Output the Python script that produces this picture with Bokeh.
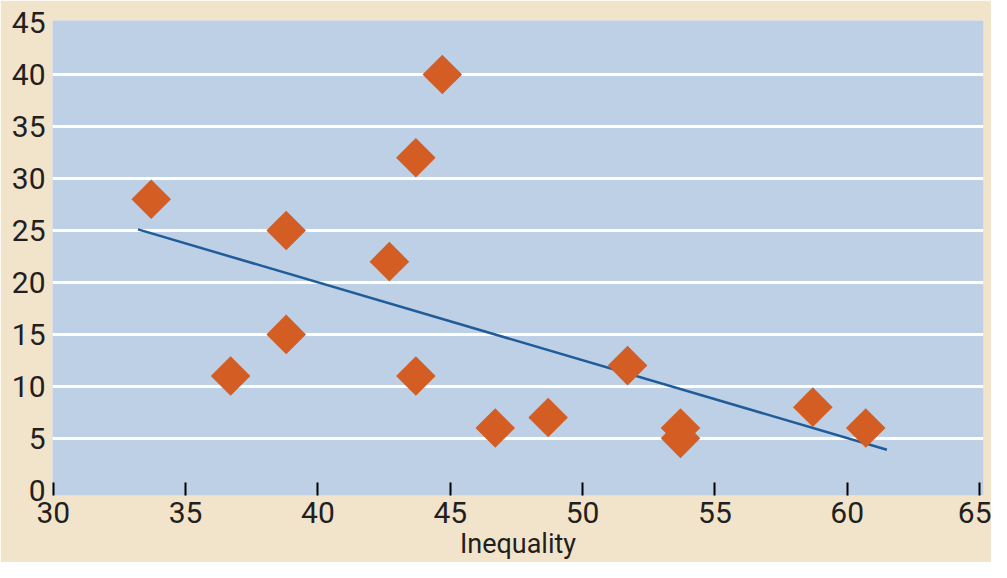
from bokeh.plotting import figure
from bokeh.models import FixedTicker, Range1d, ColumnDataSource
from bokeh.embed import file_html
from bokeh.resources import INLINE
import math

# Data
inequality = [33.7, 36.7, 38.8, 38.8, 42.7, 43.7, 43.7, 44.7, 46.7, 48.7, 51.7, 53.7, 53.7, 58.7, 60.7]
values = [28, 11, 25, 15, 22, 32, 11, 40, 6, 7, 12, 6, 5, 8, 6]
trend_x = [33.2, 61.5]
trend_y = [25.1, 3.9]
x_ticks = [30, 35, 40, 45, 50, 55, 60, 65]
y_ticks = [0, 5, 10, 15, 20, 25, 30, 35, 40, 45]
grid_ticks = [5, 10, 15, 20, 25, 30, 35, 40]

FONT = "Roboto"
TXT = "#231f20"

p = figure(width=991, height=562, output_backend="svg", toolbar_location=None,
           x_range=Range1d(29.97, 65.15), y_range=Range1d(-0.5, 45.2),
           min_border_left=52, min_border_right=8, min_border_top=20, min_border_bottom=0)
p.border_fill_color = "#F2E4CB"
p.background_fill_color = "#BDD0E6"
p.outline_line_color = None

p.xgrid.grid_line_color = None
p.ygrid.ticker = FixedTicker(ticks=grid_ticks)
p.ygrid.grid_line_color = "white"
p.ygrid.grid_line_width = 3

p.xaxis.ticker = FixedTicker(ticks=x_ticks)
p.xaxis.axis_line_color = None
p.xaxis.major_tick_in = 13
p.xaxis.major_tick_out = 0
p.xaxis.major_tick_line_color = "black"
p.xaxis.major_tick_line_width = 2
p.xaxis.minor_tick_line_color = None
p.xaxis.major_label_standoff = 6
p.xaxis.major_label_text_font = FONT
p.xaxis.major_label_text_font_size = "30px"
p.xaxis.major_label_text_color = TXT
p.xaxis.axis_label = "Inequality"
p.xaxis.axis_label_text_font = FONT
p.xaxis.axis_label_text_font_size = "27px"
p.xaxis.axis_label_text_font_style = "normal"
p.xaxis.axis_label_text_color = TXT
p.xaxis.axis_label_standoff = 2

p.yaxis.ticker = FixedTicker(ticks=y_ticks)
p.yaxis.axis_line_color = None
p.yaxis.major_tick_line_color = None
p.yaxis.minor_tick_line_color = None
p.yaxis.major_tick_in = 0
p.yaxis.major_tick_out = 0
p.yaxis.major_label_standoff = 7
p.yaxis.major_label_text_font = FONT
p.yaxis.major_label_text_font_size = "30px"
p.yaxis.major_label_text_color = TXT

p.line(trend_x, trend_y, line_color="#1F5C99", line_width=2.5)

src = ColumnDataSource(dict(x=inequality, y=values))
p.scatter("x", "y", source=src, marker="square", size=28, angle=math.pi / 4,
          fill_color="#D35D22", line_color=None)

open("out.html", "w").write(file_html(p, INLINE))
